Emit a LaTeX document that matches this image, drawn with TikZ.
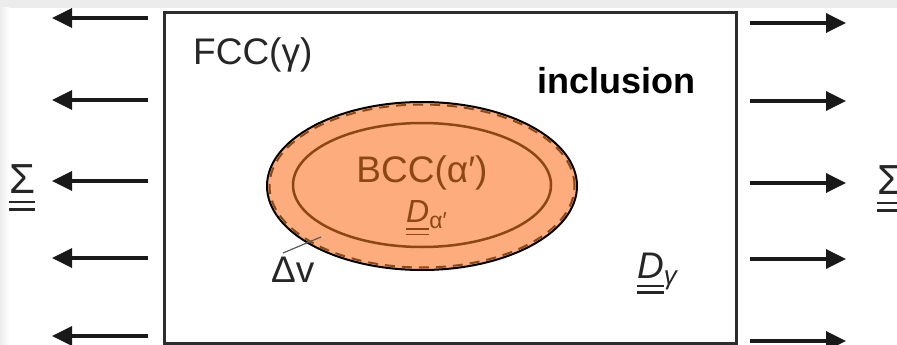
\documentclass[tikz,border=0pt]{standalone}
\usepackage{fontspec}
\setmainfont{Liberation Sans}
\usetikzlibrary{arrows.meta,shapes.geometric}
\definecolor{brownc}{RGB}{140,72,20}
\definecolor{fillc}{RGB}{253,172,126}
\definecolor{boxc}{RGB}{45,45,45}
\definecolor{bandc}{RGB}{236,236,236}
\newcommand\dul[1]{\setbox0\hbox{#1}\rlap{\rule[-0.24em]{\wd0}{0.06em}}\rlap{\rule[-0.42em]{\wd0}{0.06em}}\box0}
\begin{document}
\begin{tikzpicture}[x=1pt,y=-1pt,
  lbl/.style={inner sep=0pt, font=\fontsize{37}{40}\selectfont, text=black!85},
  force/.style={line width=3.5pt, draw=black!90, -{Triangle[length=20pt,width=19pt]}},
  ringbox/.style={line width=3pt, draw=boxc}]
\useasboundingbox (0,0) rectangle (897,345);
% screenshot bands
\fill[bandc] (0,0) rectangle (897,8);
\shade[left color=bandc, right color=white] (0,8) rectangle (9,345);
% box
\node[ringbox, rectangle, inner sep=0pt, minimum width=572pt, minimum height=331pt, anchor=north west] (box) at (163,11) {};
% inclusion
\node[ellipse, inner sep=0pt, minimum width=310pt, minimum height=168pt, draw=black, line width=2pt, fill=fillc] (outer) at (422,186) {};
\node[ellipse, inner sep=0pt, minimum width=305pt, minimum height=163pt, draw=brownc, line width=2pt, dash pattern=on 10pt off 7pt] (outerd) at (422,186) {};
\node[ellipse, inner sep=0pt, minimum width=258pt, minimum height=124pt, draw=brownc, line width=2.5pt] (inner) at (422,185) {};
% labels
\node[lbl, anchor=base west] (fcc) at (193,65) {FCC(γ)};
\node[lbl, anchor=base west, font=\fontsize{36}{40}\selectfont\bfseries, text=black] (incl) at (537,93) {inclusion};
\node[lbl, anchor=base, text=brownc] (bcc) at (422,182) {BCC(α′)};
\node[lbl, anchor=base west, text=brownc, font=\fontsize{32}{34}\selectfont] (da) at (406,222) {\dul{\textit{D}}\raisebox{-0.2em}{\fontsize{23}{24}\selectfont α′}};
\node[lbl, anchor=base west] (dg) at (637,278) {\dul{\textit{D}}\raisebox{-0.17em}{\fontsize{26}{26}\selectfont\textit{γ}}};
\node[lbl, anchor=base west] (dv) at (271,282) {Δv};
\node[lbl, anchor=base west, font=\fontsize{42}{44}\selectfont] (sl) at (9,193) {\dul{Σ}};
\node[lbl, anchor=base west, font=\fontsize{42}{44}\selectfont] (sr) at (877,194) {\dul{Σ}};
% leader
\coordinate (la) at (283,253);
\coordinate (lb) at (321,237);
\draw[black!65, line width=1.2pt] (la) -- (lb);
% forces left
\foreach \y [count=\i] in {18,100,181,258,336} {
  \coordinate (lt\i) at (148,\y);
  \coordinate (lh\i) at (52,\y);
  \draw[force] (lt\i) -- (lh\i);
}
% forces right
\foreach \y [count=\i] in {23,101,183,259,341} {
  \coordinate (rt\i) at (750,\y);
  \coordinate (rh\i) at (846,\y);
  \draw[force] (rt\i) -- (rh\i);
}
\end{tikzpicture}
\end{document}
